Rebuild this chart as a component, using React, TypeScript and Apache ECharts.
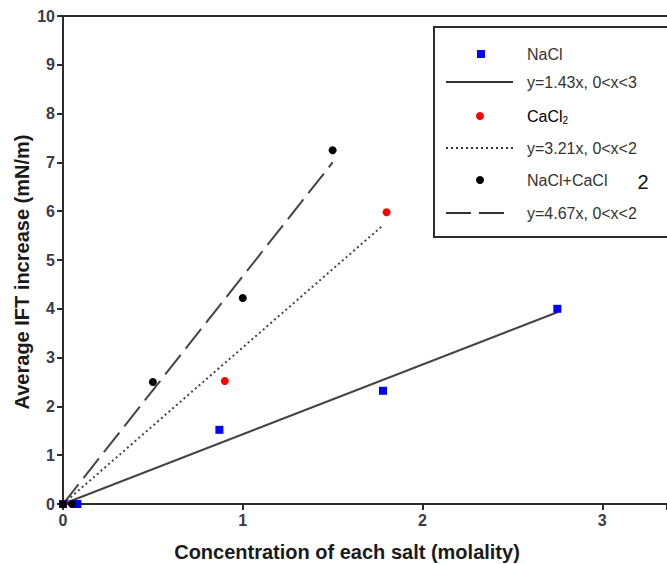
import React, { useEffect, useRef } from "react";
import * as echarts from "echarts";

const xTicks = [0, 1, 2, 3];
const yTicks = [0, 1, 2, 3, 4, 5, 6, 7, 8, 9, 10];

const naclPoints = [[0, 0], [0.08, 0], [0.87, 1.52], [1.78, 2.32], [2.75, 4.0]];
const cacl2Points = [[0, 0], [0.9, 2.52], [1.8, 5.98]];
const mixPoints = [[0, 0], [0.05, 0], [0.5, 2.5], [1.0, 4.22], [1.5, 7.25]];

const naclFit = [[0, 0], [2.75, 3.93]];
const cacl2Fit = [[0, 0], [1.78, 5.71]];
const mixFit = [[0, 0], [1.5, 7.0]];

const legendLabels = ["NaCl", "y=1.43x, 0<x<3", "CaCl", "y=3.21x, 0<x<2", "NaCl+CaCl", "y=4.67x, 0<x<2"];

const FONT = "Arial, 'Liberation Sans', Helvetica, sans-serif";
const AXIS = "#2b2b2b";
const TXT = "#333";

export default function App() {
  const ref = useRef<HTMLDivElement>(null);
  useEffect(() => {
    if (!ref.current) return;
    const chart = echarts.init(ref.current, undefined, { renderer: "svg" });
    const rowY = [54, 82, 116, 148, 180, 213];
    const lx = 527;
    const lf = `16px ${FONT}`;
    const legend: any[] = [
      { type: "rect", shape: { x: 434, y: 27, width: 260, height: 210 }, style: { fill: "#fff", stroke: AXIS, lineWidth: 2 }, z: 10 },
      { type: "rect", shape: { x: 477, y: rowY[0] - 4, width: 8, height: 8 }, style: { fill: "#0000ff" }, z: 11 },
      { type: "line", shape: { x1: 446, y1: rowY[1], x2: 513, y2: rowY[1] }, style: { stroke: "#333", lineWidth: 2 }, z: 11 },
      { type: "circle", shape: { cx: 480, cy: rowY[2], r: 4 }, style: { fill: "#ff0000" }, z: 11 },
      { type: "line", shape: { x1: 446, y1: rowY[3], x2: 513, y2: rowY[3] }, style: { stroke: "#333", lineWidth: 2, lineDash: [2, 3] }, z: 11 },
      { type: "circle", shape: { cx: 480, cy: rowY[4], r: 4 }, style: { fill: "#000" }, z: 11 },
      { type: "line", shape: { x1: 446, y1: rowY[5], x2: 504, y2: rowY[5] }, style: { stroke: "#333", lineWidth: 2, lineDash: [25, 8] }, z: 11 },
      { type: "text", x: lx, y: rowY[0], style: { text: legendLabels[0], fill: TXT, font: lf, verticalAlign: "middle" }, z: 11 },
      { type: "text", x: lx, y: rowY[1], style: { text: legendLabels[1], fill: TXT, font: lf, verticalAlign: "middle" }, z: 11 },
      {
        type: "text", x: lx, y: rowY[2],
        style: {
          text: "{a|" + legendLabels[2] + "}{s|2}", verticalAlign: "middle",
          rich: { a: { fontSize: 16, fontFamily: FONT, color: TXT }, s: { color: TXT, fontSize: 10, fontFamily: FONT, padding: [9, 0, 0, 0] } },
        }, z: 11,
      },
      { type: "text", x: lx, y: rowY[3], style: { text: legendLabels[3], fill: TXT, font: lf, verticalAlign: "middle" }, z: 11 },
      { type: "text", x: lx, y: rowY[4], style: { text: legendLabels[4], fill: TXT, font: lf, verticalAlign: "middle" }, z: 11 },
      { type: "text", x: 643, y: rowY[4] + 2, style: { text: "2", fill: "#111", font: `20px ${FONT}`, verticalAlign: "middle", align: "center" }, z: 11 },
      { type: "text", x: lx, y: rowY[5], style: { text: legendLabels[5], fill: TXT, font: lf, verticalAlign: "middle" }, z: 11 },
    ];
    const option: any = {
      animation: false,
      backgroundColor: "#fff",
      textStyle: { fontFamily: FONT },
      grid: { left: 63, right: 0, top: 16, bottom: 60, containLabel: false, outerBoundsMode: "none" },
      xAxis: [
        {
          type: "value", min: 0, max: 3.36, interval: 1,
          name: "Concentration of each salt (molality)", nameLocation: "middle", nameGap: 38,
          nameTextStyle: { fontSize: 20, fontWeight: "bold", color: "#1a1a1a", fontFamily: FONT, padding: [0, 36, 0, 0] },
          axisLine: { show: true, onZero: false, lineStyle: { color: AXIS, width: 2 } },
          axisTick: { show: true, length: 6, lineStyle: { color: AXIS, width: 2 } },
          axisLabel: { fontSize: 16, fontWeight: "bold", color: "#3a3a4a", margin: 8, formatter: (v: number) => (xTicks.includes(v) ? String(v) : "") },
          splitLine: { show: false },
        },
        {
          type: "value", position: "top", min: 0, max: 3.36,
          axisLine: { show: true, onZero: false, lineStyle: { color: AXIS, width: 2 } },
          axisTick: { show: false }, axisLabel: { show: false }, splitLine: { show: false },
        },
      ],
      yAxis: {
        type: "value", min: 0, max: 10, interval: 1,
        name: "Average IFT increase (mN/m)", nameLocation: "middle", nameGap: 31, nameMoveOverlap: false,
        nameTextStyle: { fontSize: 20, fontWeight: "bold", color: "#1a1a1a", fontFamily: FONT, padding: [0, 24, 0, 0] },
        axisLine: { show: true, onZero: false, lineStyle: { color: AXIS, width: 2 } },
        axisTick: { show: true, length: 6, lineStyle: { color: AXIS, width: 2 } },
        axisLabel: { fontSize: 16, fontWeight: "bold", color: "#3a3a4a", margin: 8, formatter: (v: number) => (yTicks.includes(v) ? String(v) : "") },
        splitLine: { show: false },
      },
      series: [
        { name: "naclFit", type: "line", data: naclFit, symbol: "none", lineStyle: { color: "#444", width: 2 }, z: 2 },
        { name: "cacl2Fit", type: "line", data: cacl2Fit, symbol: "none", lineStyle: { color: "#444", width: 2, type: [2, 3] }, z: 2 },
        { name: "mixFit", type: "line", data: mixFit, symbol: "none", lineStyle: { color: "#444", width: 2, type: [25, 8] }, z: 2 },
        { name: "NaCl", type: "scatter", data: naclPoints, symbol: "rect", symbolSize: 8, itemStyle: { color: "#0000ff", opacity: 1 }, z: 3 },
        { name: "CaCl2", type: "scatter", data: cacl2Points, symbol: "circle", symbolSize: 8, itemStyle: { color: "#ff0000", opacity: 1 }, z: 4 },
        { name: "NaCl+CaCl2", type: "scatter", data: mixPoints, symbol: "circle", symbolSize: 8, itemStyle: { color: "#000", opacity: 1 }, z: 5 },
      ],
      graphic: legend,
    };
    chart.setOption(option);
    return () => chart.dispose();
  }, []);
  return <div ref={ref} style={{ position: "absolute", left: 0, top: 0, width: 667, height: 564 }} />;
}
